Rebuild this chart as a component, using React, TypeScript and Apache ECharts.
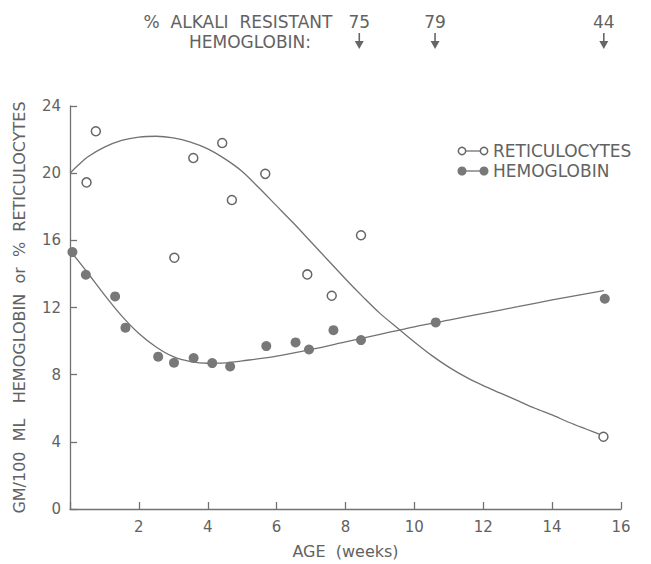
import React, { useEffect, useRef } from "react";
import * as echarts from "echarts";

// Observed data points (weeks, value)
const reticWeeks = [0.48, 0.75, 3.03, 3.58, 4.42, 4.7, 5.67, 6.89, 7.6, 8.45, 15.49];
const reticValues = [19.45, 22.5, 14.96, 20.9, 21.8, 18.4, 19.96, 13.97, 12.7, 16.3, 4.3];

const hemoWeeks = [0.07, 0.46, 1.31, 1.61, 2.56, 3.02, 3.59, 4.13, 4.65, 5.7, 6.55, 6.94, 7.65, 8.45, 10.62, 15.53];
const hemoValues = [15.3, 13.95, 12.66, 10.8, 9.07, 8.71, 8.99, 8.69, 8.49, 9.7, 9.92, 9.5, 10.65, 10.06, 11.11, 12.52];

// Fitted curves
const reticFitWeeks = [0, 0.25, 0.5, 1, 1.5, 2, 2.5, 3, 3.5, 4, 4.5, 5, 5.5, 6, 6.5, 7, 7.5, 8, 8.5, 9, 9.5, 10, 10.5, 11, 11.5, 12, 12.5, 13, 13.5, 14, 14.5, 15, 15.5];
const reticFitValues = [20.0, 20.5, 20.95, 21.55, 21.95, 22.15, 22.2, 22.1, 21.85, 21.45, 20.85, 20.1, 19.1, 18.05, 17.0, 15.9, 14.8, 13.7, 12.65, 11.65, 10.8, 9.95, 9.15, 8.45, 7.85, 7.35, 6.9, 6.45, 6.0, 5.6, 5.15, 4.75, 4.35];

const hemoFitWeeks = [0, 0.5, 1, 1.5, 2, 2.5, 3, 3.5, 4, 4.5, 5, 6, 7, 8, 9, 10, 11, 12, 13, 14, 15.5];
const hemoFitValues = [15.4, 14.1, 12.75, 11.5, 10.45, 9.65, 9.07, 8.78, 8.68, 8.7, 8.82, 9.1, 9.5, 9.95, 10.4, 10.85, 11.25, 11.65, 12.05, 12.45, 13.0];

// Alkali resistant hemoglobin annotations
const alkaliWeeks = [8.4, 10.6, 15.5];
const alkaliLabels = ["75", "79", "44"];

const xTicks = { min: 0, max: 16, interval: 2 };
const yTicks = { min: 0, max: 24, interval: 4 };

const FONT = "DejaVu Sans";
const TEXT = "#626262";
const LINE = "#727272";

const zip = (a: number[], b: number[]) => a.map((v, i) => [v, b[i]]);

export default function App() {
  const ref = useRef<HTMLDivElement>(null);
  useEffect(() => {
    if (!ref.current) return;
    const chart = echarts.init(ref.current, null, { renderer: "svg" });
    chart.setOption({
      animation: false,
      backgroundColor: "#fff",
      grid: { left: 70, right: 30, top: 106, bottom: 49 },
      xAxis: {
        type: "value",
        min: xTicks.min,
        max: xTicks.max,
        interval: xTicks.interval,
        name: "AGE  (weeks)",
        nameLocation: "middle",
        nameGap: 34,
        nameTextStyle: { fontFamily: FONT, fontSize: 16, color: TEXT },
        axisLine: { show: true, lineStyle: { color: LINE, width: 1.3 } },
        axisTick: { show: true, inside: true, length: 7, lineStyle: { color: LINE, width: 1.3 } },
        axisLabel: {
          fontFamily: FONT,
          fontSize: 15,
          color: TEXT,
          margin: 10,
          formatter: (v: number) => (v === 0 ? "" : String(v)),
        },
        splitLine: { show: false },
      },
      yAxis: {
        type: "value",
        min: yTicks.min,
        max: yTicks.max,
        interval: yTicks.interval,
        name: "GM/100  ML   HEMOGLOBIN  or  %  RETICULOCYTES",
        nameLocation: "middle",
        nameGap: 43,
        nameTextStyle: { fontFamily: FONT, fontSize: 16, color: TEXT },
        axisLine: { show: true, lineStyle: { color: LINE, width: 1.3 } },
        axisTick: { show: true, inside: true, length: 7, lineStyle: { color: LINE, width: 1.3 } },
        axisLabel: { fontFamily: FONT, fontSize: 15, color: TEXT, margin: 9 },
        splitLine: { show: false },
      },
      series: [
        {
          type: "line",
          data: zip(reticFitWeeks, reticFitValues),
          smooth: 0.3,
          showSymbol: false,
          lineStyle: { color: LINE, width: 1.3 },
          silent: true,
          z: 1,
        },
        {
          type: "line",
          data: zip(hemoFitWeeks, hemoFitValues),
          smooth: 0.3,
          showSymbol: false,
          lineStyle: { color: LINE, width: 1.3 },
          silent: true,
          z: 1,
        },
        {
          name: "RETICULOCYTES",
          type: "scatter",
          data: zip(reticWeeks, reticValues),
          symbol: "circle",
          symbolSize: 9,
          itemStyle: { color: "#fff", borderColor: "#666", borderWidth: 1.5, opacity: 1 },
          z: 3,
        },
        {
          name: "HEMOGLOBIN",
          type: "scatter",
          data: zip(hemoWeeks, hemoValues),
          symbol: "circle",
          symbolSize: 10,
          itemStyle: { color: "#787878", opacity: 1 },
          z: 3,
        },
      ],
    });

    const graphics: any[] = [];
    // Legend
    const legendRows = [
      { y: 151, label: "RETICULOCYTES", filled: false },
      { y: 171, label: "HEMOGLOBIN", filled: true },
    ];
    legendRows.forEach((r) => {
      graphics.push({
        type: "line",
        shape: { x1: 462, y1: r.y, x2: 484, y2: r.y },
        style: { stroke: LINE, lineWidth: 1.3 },
      });
      [462, 484].forEach((cx) => {
        graphics.push({
          type: "circle",
          shape: { cx, cy: r.y, r: r.filled ? 4.5 : 3.7 },
          style: r.filled
            ? { fill: "#787878" }
            : { fill: "#fff", stroke: "#666", lineWidth: 1.5 },
        });
      });
      graphics.push({
        type: "text",
        x: 493,
        y: r.y,
        style: {
          text: r.label,
          fontFamily: FONT,
          fontSize: 17,
          fill: TEXT,
          verticalAlign: "middle",
          align: "left",
        },
      });
    });

    // Top annotation
    graphics.push({
      type: "text",
      x: 238,
      y: 22,
      style: {
        text: "%  ALKALI  RESISTANT",
        fontFamily: FONT,
        fontSize: 17,
        fill: TEXT,
        align: "center",
        verticalAlign: "middle",
      },
    });
    graphics.push({
      type: "text",
      x: 250,
      y: 42,
      style: {
        text: "HEMOGLOBIN:",
        fontFamily: FONT,
        fontSize: 17,
        fill: TEXT,
        align: "center",
        verticalAlign: "middle",
      },
    });
    alkaliWeeks.forEach((w, i) => {
      const px = chart.convertToPixel({ xAxisIndex: 0 } as any, w) as number;
      graphics.push({
        type: "text",
        x: px,
        y: 22,
        style: {
          text: alkaliLabels[i],
          fontFamily: FONT,
          fontSize: 17,
          fill: TEXT,
          align: "center",
          verticalAlign: "middle",
        },
      });
      graphics.push({
        type: "line",
        shape: { x1: px, y1: 33, x2: px, y2: 44 },
        style: { stroke: "#666", lineWidth: 1.6 },
      });
      graphics.push({
        type: "polygon",
        shape: { points: [[px - 4.5, 41], [px + 4.5, 41], [px, 49]] },
        style: { fill: "#666" },
      });
    });

    chart.setOption({ graphic: graphics });

    return () => chart.dispose();
  }, []);
  return (
    <div
      ref={ref}
      style={{ position: "absolute", left: 0, top: 0, width: 651, height: 564 }}
    />
  );
}
